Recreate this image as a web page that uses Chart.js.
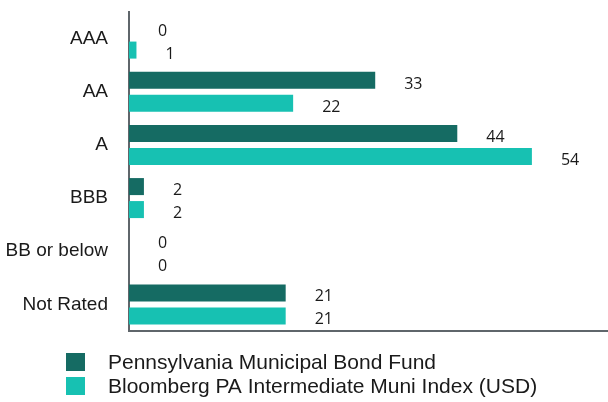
<!DOCTYPE html>
<html>
<head>
<meta charset="utf-8">
<script src="https://cdn.jsdelivr.net/npm/chart.js@4"></script>
<style>
  html, body { margin: 0; padding: 0; background: #ffffff; }
  #wrap { width: 608px; height: 402px; position: relative; }
</style>
</head>
<body>
<div id="wrap"><canvas id="c" width="608" height="402"></canvas></div>
<script>
const categories = ["AAA", "AA", "A", "BBB", "BB or below", "Not Rated"];
const fundValues = [0, 33, 44, 2, 0, 21];
const indexValues = [1, 22, 54, 2, 0, 21];
const seriesNames = ["Pennsylvania Municipal Bond Fund", "Bloomberg PA Intermediate Muni Index (USD)"];
const seriesColors = ["#156b63", "#17c1b2"];

const valueLabels = {
  id: 'valueLabels',
  afterDatasetsDraw(chart) {
    const ctx = chart.ctx;
    ctx.save();
    ctx.font = '16px "Open Sans", sans-serif';
    ctx.fillStyle = '#1a1a1a';
    ctx.textAlign = 'left';
    ctx.textBaseline = 'middle';
    chart.data.datasets.forEach((ds, di) => {
      const meta = chart.getDatasetMeta(di);
      meta.data.forEach((el, i) => {
        ctx.fillText(String(ds.data[i]), el.x + 29, el.y + 4);
      });
    });
    ctx.restore();
  }
};

const customLegend = {
  id: 'customLegend',
  afterDraw(chart) {
    const ctx = chart.ctx;
    ctx.save();
    ctx.font = '21px "Liberation Sans", Arial, sans-serif';
    ctx.textAlign = 'left';
    ctx.textBaseline = 'middle';
    const x0 = 66, y0 = 362, lh = 24;
    chart.data.datasets.forEach((ds, i) => {
      const cy = y0 + i * lh;
      ctx.fillStyle = ds.backgroundColor;
      ctx.fillRect(x0, cy - 9, 19, 18);
      ctx.fillStyle = '#1a1a1a';
      ctx.fillText(ds.label, 108, cy + 1);
    });
    ctx.restore();
  }
};

new Chart(document.getElementById('c'), {
  type: 'bar',
  data: {
    labels: categories,
    datasets: [
      { label: seriesNames[0], data: fundValues, backgroundColor: seriesColors[0], borderWidth: 0,
        categoryPercentage: 0.865, barPercentage: 0.74 },
      { label: seriesNames[1], data: indexValues, backgroundColor: seriesColors[1], borderWidth: 0,
        categoryPercentage: 0.865, barPercentage: 0.74 }
    ]
  },
  options: {
    indexAxis: 'y',
    responsive: false,
    animation: false,
    layout: { padding: { top: 12, right: 0, bottom: 71, left: 0 } },
    plugins: {
      legend: { display: false },
      tooltip: { enabled: false }
    },
    scales: {
      x: {
        min: 0,
        max: 64.2,
        ticks: { display: false },
        grid: { display: false, drawTicks: false },
        border: { display: true, color: '#5f666b', width: 2 },
        afterFit(scale) { scale.height = 0; scale.paddingLeft = 0; scale.paddingRight = 0; }
      },
      y: {
        ticks: {
          color: '#1a1a1a',
          padding: 21,
          font: { family: '"Liberation Sans", Arial, sans-serif', size: 19 }
        },
        grid: { display: false, drawTicks: false },
        border: { display: true, color: '#5f666b', width: 2 },
        afterFit(scale) { scale.width = 129; scale.paddingTop = 0; scale.paddingBottom = 0; }
      }
    }
  },
  plugins: [valueLabels, customLegend]
});
</script>
</body>
</html>
